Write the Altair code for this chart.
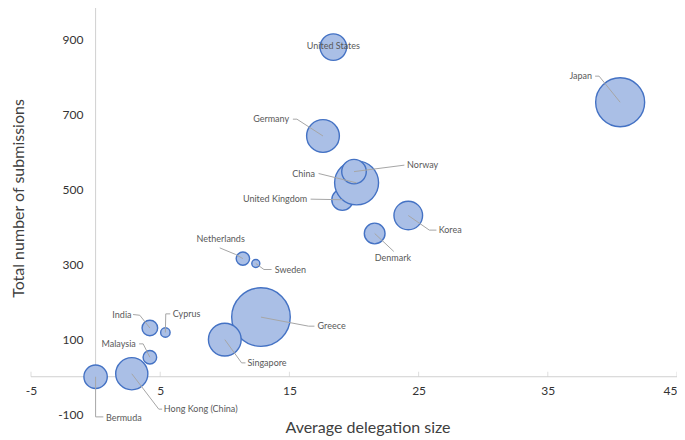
import altair as alt
import pandas as pd

# ---- data ----
countries = ["United Kingdom", "China", "Norway", "United States", "Germany", "Japan",
             "Korea", "Denmark", "Netherlands", "Sweden", "Greece", "Singapore",
             "India", "Cyprus", "Malaysia", "Hong Kong (China)", "Bermuda"]
avg_delegation = [19.1, 20.2, 20.0, 18.4, 17.6, 40.6, 24.2, 21.6, 11.4, 12.4, 12.8, 10.0,
                  4.2, 5.4, 4.2, 2.8, 0.0]
total_submissions = [472, 517, 547, 879, 642, 732, 430, 382, 315, 302, 159, 99,
                     130, 118, 52, 8, 0]
bubble_value = [2.3, 9.9, 3.1, 3.6, 5.5, 12.3, 4.2, 2.2, 0.92, 0.33, 17.6, 5.5,
                1.25, 0.46, 0.95, 5.3, 2.8]

# data-label anchors (in data units) and alignment
label_x = [16.38, 16.98, 24.11, 18.4, 14.98, 38.43, 26.55, 23.01, 9.68, 13.86, 17.18, 11.75,
           2.78, 5.97, 3.11, 5.28, 0.8]
label_y = [473.6, 541.1, 564.3, 881, 686.9, 801.6, 390.1, 317, 366.1, 284.3, 134.9, 35.5,
           163.5, 167.7, 87.7, -86.4, -111.2]
label_align = ["right", "right", "left", "center", "right", "right", "left", "center", "center",
               "left", "left", "left", "right", "left", "right", "left", "left"]
# leader lines: start point near the label, then an elbow, then the bubble centre
leader_start_x = [16.64, 17.26, 23.90, None, 15.27, 38.66, 26.38, 23.08, 9.61, 13.62, 16.94, 11.6,
                  2.9, 5.78, 3.37, 5.15, 0.6]
leader_start_y = [473.6, 542.0, 564.3, None, 686.9, 801.6, 391, 334.1, 343.7, 286, 134.9, 37,
                  166, 167.7, 87.7, -86.4, -107]
leader_elbow_x = [16.64, 17.26, 23.90, None, 15.58, 38.97, 25.83, 23.08, 10.84, 13.03, 16.48, 11.3,
                  3.42, 5.43, 3.68, 4.89, 0.0]
leader_elbow_y = [473.6, 542.0, 564.3, None, 686.9, 801.6, 391, 334.1, 326.1, 286, 134.9, 37,
                  164, 167.7, 87.7, -86.4, -107]

x_ticks = [-5, 5, 15, 25, 35, 45]
y_ticks = [-100, 100, 300, 500, 700, 900]

# ---- tables ----
df = pd.DataFrame({
    "country": countries,
    "x": avg_delegation,
    "y": total_submissions,
    "bubble": bubble_value,
    "idx": list(range(len(countries))),
    "lx": label_x,
    "ly": label_y,
    "align": label_align,
})

rows = []
for i, c in enumerate(countries):
    if leader_start_x[i] is None:
        continue
    rows.append({"country": c, "o": 0, "x": leader_start_x[i], "y": leader_start_y[i]})
    rows.append({"country": c, "o": 1, "x": leader_elbow_x[i], "y": leader_elbow_y[i]})
    rows.append({"country": c, "o": 2, "x": avg_delegation[i], "y": total_submissions[i]})
leaders = pd.DataFrame(rows)

FONT = "Lato"
AX_COLOR = "#D0D0D0"
HYPHEN = "datum.value < 0 ? '-' + abs(datum.value) : '' + datum.value"
xs = alt.Scale(domain=[-5, 45], nice=False, zero=False)
ys = alt.Scale(domain=[-150, 983.33], nice=False, zero=False)

x_axis = alt.Axis(
    values=x_ticks, title="Average delegation size", orient="bottom", offset=-56.25,
    domain=False, ticks=False, grid=False, labelPadding=9, labelFlush=False,
    labelExpr=HYPHEN,
    labelAlign=alt.expr("datum.value == 45 ? 'right' : 'center'"),
    labelFont=FONT, labelFontSize=12, labelColor="#333333",
    titleFont=FONT, titleFontSize=16, titleFontWeight="normal", titleColor="#404040",
    titleX=336.5, titleY=50.5, titleBaseline="middle")
y_axis = alt.Axis(
    values=y_ticks, title="Total number of submissions", orient="left", offset=-55,
    domain=False, ticks=False, grid=False, labelPadding=3,
    labelExpr=HYPHEN,
    labelFont=FONT, labelFontSize=12, labelColor="#333333",
    titleFont=FONT, titleFontSize=16, titleFontWeight="normal", titleColor="#404040",
    titleX=-68, titleY=190, titleBaseline="middle")

# axis lines
xline = alt.Chart(pd.DataFrame({"x": [-5], "b": [45], "y": [0]})).mark_rule(
    color=AX_COLOR, strokeWidth=1
).encode(x=alt.X("x:Q", scale=xs, axis=x_axis), x2="b:Q", y=alt.Y("y:Q", scale=ys, axis=y_axis))

yline = alt.Chart(pd.DataFrame({"x": [0], "y": [0], "b": [983.33]})).mark_rule(
    color=AX_COLOR, strokeWidth=1
).encode(x=alt.X("x:Q", scale=xs, axis=x_axis), y=alt.Y("y:Q", scale=ys, axis=y_axis), y2="b:Q")

ticks = alt.Chart(pd.DataFrame({"x": x_ticks, "y": [0] * len(x_ticks)})).mark_tick(
    color=AX_COLOR, thickness=1, size=5, orient="vertical", yOffset=-2.5
).encode(x=alt.X("x:Q", scale=xs, axis=x_axis), y=alt.Y("y:Q", scale=ys, axis=y_axis))

bubbles = alt.Chart(df).mark_point(
    shape="circle", filled=True, fill="#AABFE6", stroke="#4472C4", strokeWidth=1.4,
    opacity=1, fillOpacity=1
).encode(
    x=alt.X("x:Q", scale=xs, axis=x_axis),
    y=alt.Y("y:Q", scale=ys, axis=y_axis),
    size=alt.Size("bubble:Q", scale=alt.Scale(domain=[0, 17.6], range=[0, 3434]), legend=None),
    order=alt.Order("idx:Q"),
)

lead = alt.Chart(leaders).mark_line(color="#A6A6A6", strokeWidth=1).encode(
    x=alt.X("x:Q", scale=xs, axis=x_axis),
    y=alt.Y("y:Q", scale=ys, axis=y_axis),
    detail="country:N",
    order="o:Q",
)

def labels(al):
    return alt.Chart(df).transform_filter(alt.datum.align == al).transform_calculate(
        x="datum.lx", y="datum.ly"
    ).mark_text(
        align=al, baseline="middle", font=FONT, fontSize=9, color="#595959"
    ).encode(
        x=alt.X("x:Q", scale=xs, axis=x_axis),
        y=alt.Y("y:Q", scale=ys, axis=y_axis),
        text="country:N",
    )

chart = alt.layer(
    xline, yline, ticks, bubbles, lead, labels("left"), labels("right"), labels("center")
).properties(
    width=646, height=425,
    padding={"left": 23, "top": 0, "right": 0, "bottom": 7},
    autosize=alt.AutoSizeParams(type="none"),
    background="white",
).configure_view(stroke=None)

chart.save("out.html", embed_options={"renderer": "svg", "actions": False})
